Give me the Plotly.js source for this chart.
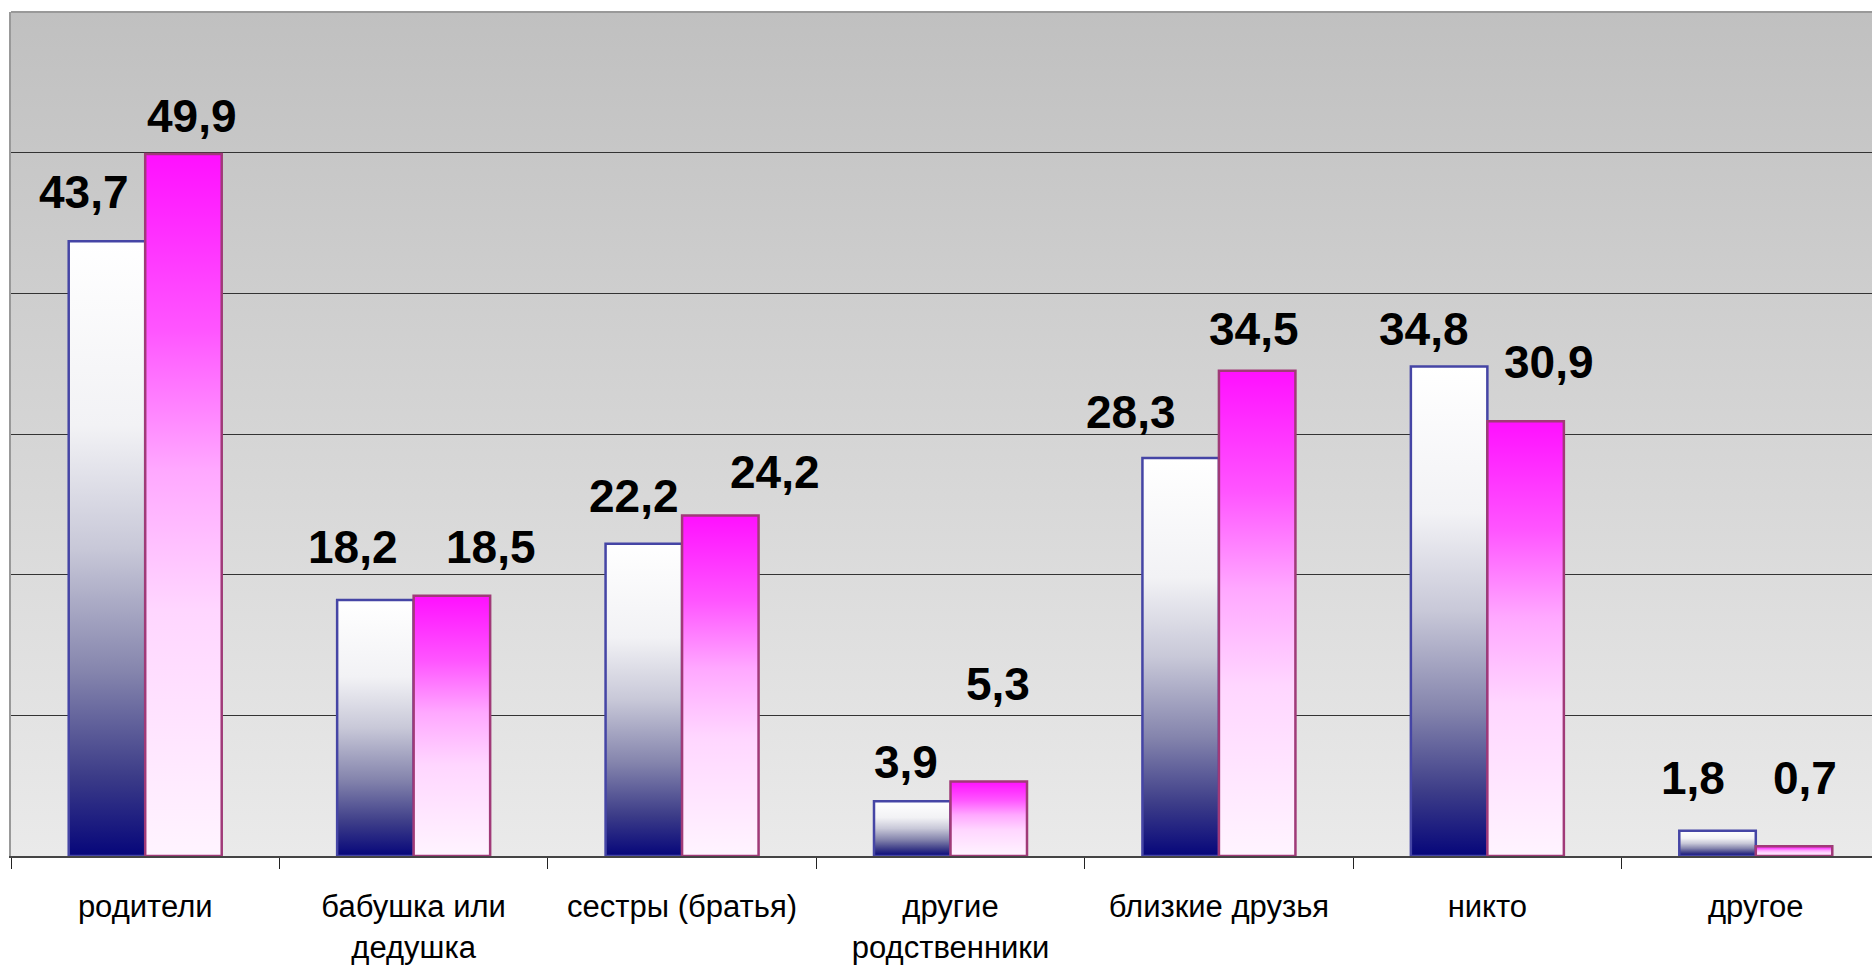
<!DOCTYPE html>
<html>
<head>
<meta charset="utf-8">
<script src="https://cdn.plot.ly/plotly-3.0.1.min.js"></script>
<style>
  html, body { margin: 0; padding: 0; background: #ffffff; overflow: hidden; }
  #chart { width: 1890px; height: 965px; }
</style>
</head>
<body>
<div id="chart"></div>
<script>
// ---- data ----
const categories = ['родители', 'бабушка или<br>дедушка', 'сестры (братья)', 'другие<br>родственники', 'близкие друзья', 'никто', 'другое'];
const series1 = [43.7, 18.2, 22.2, 3.9, 28.3, 34.8, 1.8];
const series2 = [49.9, 18.5, 24.2, 5.3, 34.5, 30.9, 0.7];
const seriesNames = ['Ряд 1', 'Ряд 2'];

// ---- label placement nudges (pixels, relative to bar centre / bar top) ----
const nudgeX1 = [-23, -22, -10, -6, -50, -25, -25];
const nudgeX2 = [9, 39, 55, 9, -3, 23, 11];
const gapY1 = [29, 33, 28, 19, 26, 17, 33];
const gapY2 = [18, 29, 24, 77, 22, 39, 48];

const fmt = v => v.toFixed(1).replace('.', ',');

const W = 1890, H = 965;
const margin = {l: 11, r: 0, t: 12, b: 109};
const bargap = 0.43;
const plotW = W - margin.l - margin.r;
const catW = plotW / categories.length;
const barHalf = catW * (1 - bargap) / 4;
const descent = 8;

const traces = [
  {type: 'bar', name: seriesNames[0], x: categories, y: series1,
   marker: {color: '#8080b0', line: {color: '#4545a5', width: 2.5}}, hoverinfo: 'x+y'},
  {type: 'bar', name: seriesNames[1], x: categories, y: series2,
   marker: {color: '#ff80ff', line: {color: '#a03a78', width: 2.5}}, hoverinfo: 'x+y'}
];

const annotations = [];
categories.forEach((c, i) => {
  annotations.push({x: c, y: series1[i], xref: 'x', yref: 'y', text: fmt(series1[i]),
    showarrow: false, xanchor: 'center', yanchor: 'bottom',
    xshift: -barHalf + nudgeX1[i], yshift: gapY1[i] - descent,
    font: {family: 'Liberation Sans, Arial, sans-serif', size: 46, color: '#000000', weight: 'bold'}});
  annotations.push({x: c, y: series2[i], xref: 'x', yref: 'y', text: fmt(series2[i]),
    showarrow: false, xanchor: 'center', yanchor: 'bottom',
    xshift: barHalf + nudgeX2[i], yshift: gapY2[i] - descent,
    font: {family: 'Liberation Sans, Arial, sans-serif', size: 46, color: '#000000', weight: 'bold'}});
});

const layout = {
  width: W, height: H, margin: margin,
  paper_bgcolor: '#ffffff', plot_bgcolor: '#d5d5d5',
  barmode: 'group', bargap: bargap, bargroupgap: 0,
  showlegend: false,
  font: {family: 'Liberation Sans, Arial, sans-serif', color: '#000000'},
  xaxis: {
    type: 'category', showline: true, linecolor: '#444444', linewidth: 2,
    ticks: 'outside', tickson: 'boundaries', ticklen: 11, tickwidth: 1, tickcolor: '#222222',
    tickfont: {family: 'Liberation Sans, Arial, sans-serif', size: 31, color: '#000000'},
    ticklabelstandoff: 22, showgrid: false, fixedrange: true
  },
  yaxis: {
    range: [0, 60], dtick: 10, showticklabels: false, ticks: '',
    showgrid: true, gridcolor: '#333333', gridwidth: 1, zeroline: false,
    showline: true, linecolor: '#999999', linewidth: 2, fixedrange: true
  },
  shapes: [
    {type: 'line', xref: 'paper', yref: 'paper', x0: 0, x1: 1, y0: 1, y1: 1,
     line: {color: '#999999', width: 2}, layer: 'above'}
  ],
  annotations: annotations
};

const gd = document.getElementById('chart');
Plotly.newPlot(gd, traces, layout, {displayModeBar: false, staticPlot: true}).then(() => {
  const NS = 'http://www.w3.org/2000/svg';
  const svg = gd.querySelector('.main-svg');
  let defs = svg.querySelector('defs');
  if (!defs) { defs = document.createElementNS(NS, 'defs'); svg.insertBefore(defs, svg.firstChild); }
  function addGrad(id, stops) {
    const g = document.createElementNS(NS, 'linearGradient');
    g.setAttribute('id', id);
    g.setAttribute('x1', '0'); g.setAttribute('y1', '0');
    g.setAttribute('x2', '0'); g.setAttribute('y2', '1');
    stops.forEach(([o, c]) => {
      const s = document.createElementNS(NS, 'stop');
      s.setAttribute('offset', o);
      s.setAttribute('stop-color', c);
      g.appendChild(s);
    });
    defs.appendChild(g);
  }
  addGrad('gradS1', [[0, '#ffffff'], [0.3, '#f2f2f5'], [0.5, '#c8c8d8'], [0.7, '#8585ad'], [0.87, '#3c3c88'], [1, '#06067a']]);
  addGrad('gradS2', [[0, '#ff10ff'], [0.25, '#ff55ff'], [0.45, '#ffa8ff'], [0.65, '#ffd6ff'], [1, '#fff4ff']]);
  addGrad('gradBg', [[0, '#c0c0c0'], [1, '#eaeaea']]);

  const bg = svg.querySelector('rect.bg');
  if (bg) bg.style.fill = 'url(#gradBg)';
  const barTraces = svg.querySelectorAll('.barlayer .trace');
  barTraces.forEach((t, i) => {
    t.querySelectorAll('path').forEach(p => { p.style.fill = 'url(#gradS' + (i + 1) + ')'; });
  });
});
</script>
</body>
</html>
